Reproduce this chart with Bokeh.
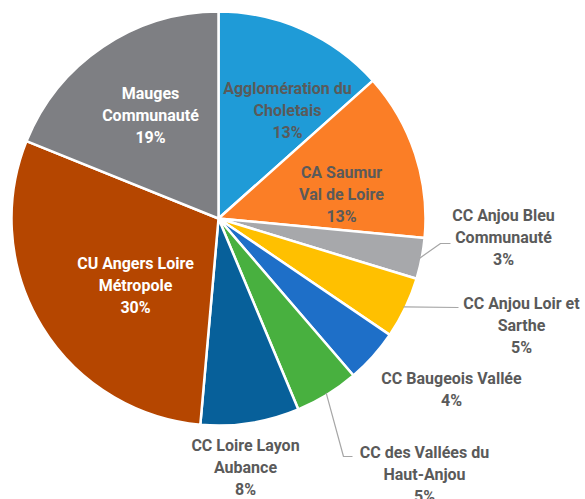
import math
from bokeh.plotting import figure
from bokeh.models import Range1d, ColumnDataSource
from bokeh.core.properties import value
from bokeh.embed import file_html
from bokeh.resources import INLINE

# ---- data ----
names = ["Agglomération du\nCholetais", "CA Saumur\nVal de Loire", "CC Anjou Bleu\nCommunauté",
         "CC Anjou Loir et\nSarthe", "CC Baugeois Vallée", "CC des Vallées du\nHaut-Anjou",
         "CC Loire Layon\nAubance", "CU Angers Loire\nMétropole", "Mauges\nCommunauté"]
shares = [13.4, 13.1, 3.2, 4.8, 4.2, 5.0, 7.7, 29.7, 18.9]
colors = ["#1F9BD7", "#FB7E26", "#A7A8AB", "#FFC000", "#1E6FC8", "#48B03F", "#07609A", "#B54600", "#7E7F83"]

# ---- layout (pixel space, y measured down from top) ----
W, H = 585, 499
CXp, CYp, R = 218, 218, 207
label_color = ["#5A5A5A"] * 7 + ["#FFFFFF", "#FFFFFF"]
label_pos = [(287, 88), (341, 172), (503, 215), (521, 303), (451, 378), (424, 452), (245, 445), (135, 263), (150, 93)]
leader = {2: [(440, 243), (450, 243)], 3: [(458, 307)], 5: [(343, 456), (352, 456)]}
LINE_H = 22

p = figure(width=W, height=H, output_backend="svg", toolbar_location=None,
           x_range=Range1d(0, W), y_range=Range1d(0, H), min_border=0)
p.axis.visible = False
p.grid.visible = False
p.outline_line_color = None
p.background_fill_color = "white"
p.border_fill_color = "white"

CX, CY = CXp, H - CYp
total = sum(shares)
cum = 0.0
starts, ends, mids = [], [], []
for s in shares:
    c0 = cum / total * 360.0
    cum += s
    c1 = cum / total * 360.0
    starts.append(math.radians(90 - c1))
    ends.append(math.radians(90 - c0))
    mids.append(math.radians(90 - (c0 + c1) / 2))

src = ColumnDataSource(dict(start=starts, end=ends, color=colors))
p.wedge(x=CX, y=CY, radius=R, start_angle="start", end_angle="end", fill_color="color",
        line_color="white", line_width=2.5, source=src)

# leader lines
for i, pts in leader.items():
    ex = CX + (R - 2) * math.cos(mids[i])
    ey = CY + (R - 2) * math.sin(mids[i])
    xs = [ex] + [q[0] for q in pts]
    ys = [ey] + [H - q[1] for q in pts]
    p.line(xs, ys, line_color="#A6A6A6", line_width=1.2)

# labels
for i, nm in enumerate(names):
    lines = nm.split("\n") + [f"{round(shares[i])}%"]
    lx, ly = label_pos[i]
    for k, t in enumerate(lines):
        p.text(x=[lx], y=[H - (ly + k * LINE_H)], text=[t], text_align="center",
               text_baseline="middle", text_font=value("Roboto"),
               text_font_style="bold", text_font_size="16px", text_color=label_color[i])

open("out.html", "w").write(file_html(p, INLINE))
